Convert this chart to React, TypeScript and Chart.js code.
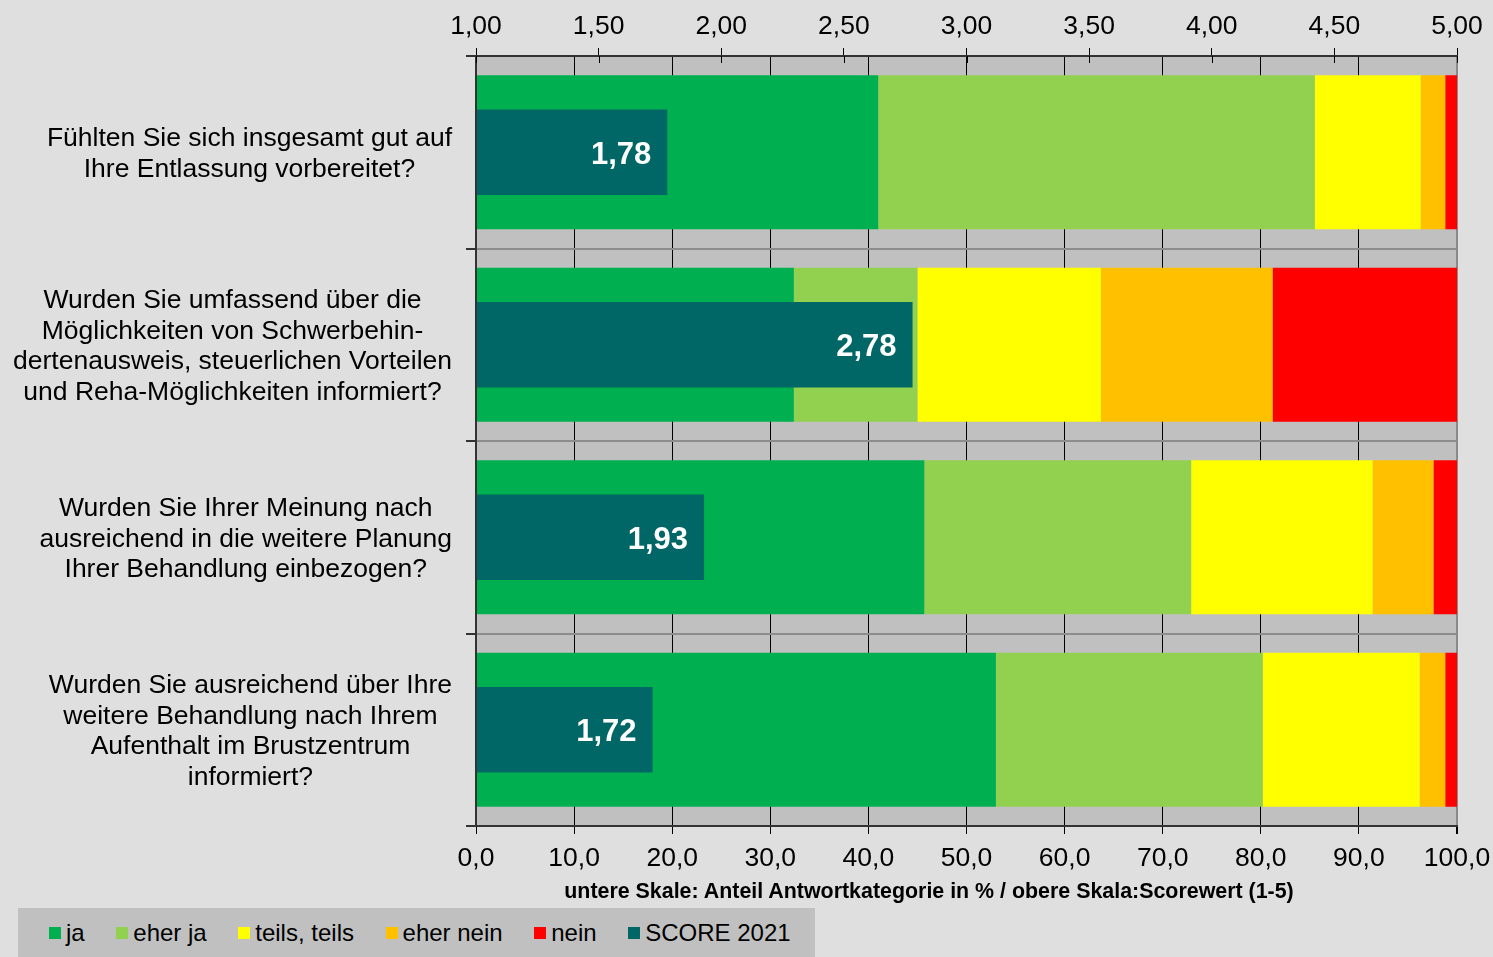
import React, { useEffect, useRef } from 'react';
import { Chart, registerables } from 'chart.js';

Chart.register(...registerables);

const FONT = '"Liberation Sans", Arial, sans-serif';

const categories: string[][] = [
  ['Fühlten Sie sich insgesamt gut auf', 'Ihre Entlassung vorbereitet?'],
  [
    'Wurden Sie umfassend über die',
    'Möglichkeiten von Schwerbehin-',
    'dertenausweis, steuerlichen Vorteilen',
    'und Reha-Möglichkeiten informiert?',
  ],
  ['Wurden Sie Ihrer Meinung nach', 'ausreichend in die weitere Planung', 'Ihrer Behandlung einbezogen?'],
  ['Wurden Sie ausreichend über Ihre', 'weitere Behandlung nach Ihrem', 'Aufenthalt im Brustzentrum', 'informiert?'],
];

const ja = [41.0, 32.4, 45.7, 53.0];
const eherJa = [44.5, 12.6, 27.2, 27.2];
const teils = [10.8, 18.7, 18.5, 16.0];
const eherNein = [2.5, 17.5, 6.2, 2.6];
const nein = [1.2, 18.8, 2.4, 1.2];
const score2021 = [1.78, 2.78, 1.93, 1.72];

const seriesNames = ['ja', 'eher ja', 'teils, teils', 'eher nein', 'nein', 'SCORE 2021'];
const seriesColors = ['#00b050', '#92d050', '#ffff00', '#ffc000', '#ff0000', '#006666'];

const axisTitle = 'untere Skale: Anteil Antwortkategorie in % / obere Skala:Scorewert (1-5)';

const fmt = (v: number, d: number) => v.toFixed(d).replace('.', ',');

const bgPlugin = {
  id: 'areaBg',
  beforeDraw(chart: any) {
    const { ctx, chartArea } = chart;
    ctx.save();
    ctx.fillStyle = '#c0c0c0';
    ctx.fillRect(chartArea.left, chartArea.top, chartArea.right - chartArea.left, chartArea.bottom - chartArea.top);
    ctx.restore();
  },
};

const labelsPlugin = {
  id: 'catLabels',
  afterDraw(chart: any) {
    const { ctx } = chart;
    const yS = chart.scales.y;
    const x2 = chart.scales.x2;
    ctx.save();
    // inner parts of the top axis tick marks
    ctx.strokeStyle = '#000';
    ctx.lineWidth = 1;
    x2.ticks.forEach((t: any) => {
      const x = Math.round(x2.getPixelForValue(t.value)) + 0.5;
      ctx.beginPath();
      ctx.moveTo(x, chart.chartArea.top);
      ctx.lineTo(x, chart.chartArea.top + 7);
      ctx.stroke();
    });
    ctx.font = '26.5px ' + FONT;
    ctx.fillStyle = '#000';
    ctx.textAlign = 'center';
    ctx.textBaseline = 'middle';
    categories.forEach((lines, i) => {
      const cy = yS.getPixelForValue(i) + 2;
      const w = Math.max(...lines.map((l) => ctx.measureText(l).width));
      const cx = yS.right - 24 - w / 2;
      lines.forEach((l, j) => ctx.fillText(l, cx, cy + (j - (lines.length - 1) / 2) * 30.7));
    });
    // score value labels
    const meta = chart.getDatasetMeta(5);
    ctx.font = 'bold 31px ' + FONT;
    ctx.fillStyle = '#ffffff';
    ctx.textAlign = 'right';
    meta.data.forEach((bar: any, i: number) => {
      ctx.fillText(fmt(score2021[i], 2), bar.x - 16, bar.y + 3);
    });
    ctx.restore();
  },
};

export default function App() {
  const ref = useRef<HTMLCanvasElement | null>(null);

  useEffect(() => {
    if (!ref.current) return;
    const stackSeries = [ja, eherJa, teils, eherNein, nein];
    const datasets: any[] = stackSeries.map((d, i) => ({
      label: seriesNames[i],
      data: d,
      backgroundColor: seriesColors[i],
      borderWidth: 0,
      xAxisID: 'x',
      stack: 'a',
      grouped: false,
      barPercentage: 0.8,
      categoryPercentage: 1,
      order: 1,
    }));
    datasets.push({
      label: seriesNames[5],
      data: score2021,
      backgroundColor: seriesColors[5],
      borderWidth: 0,
      xAxisID: 'x2',
      stack: 'b',
      grouped: false,
      barPercentage: 0.443,
      categoryPercentage: 1,
      order: 0,
    });

    const chart = new Chart(ref.current, {
      type: 'bar',
      data: { labels: categories.map((c) => c.join(' ')), datasets },
      options: {
        indexAxis: 'y',
        animation: false,
        responsive: false,
        devicePixelRatio: 1,
        layout: { padding: { top: 0, right: 36, bottom: 81, left: 0 } },
        plugins: { legend: { display: false }, tooltip: { enabled: false } },
        scales: {
          x: {
            type: 'linear',
            position: 'bottom',
            min: 0,
            max: 100,
            stacked: true,
            afterFit: (s: any) => {
              s.height = 50;
              s.paddingLeft = 0;
              s.paddingRight = 0;
            },
            ticks: {
              stepSize: 10,
              color: '#000',
              padding: 9,
              font: { family: FONT, size: 26.5 },
              maxRotation: 0,
              autoSkip: false,
              callback: (v: any) => fmt(Number(v), 1),
            },
            grid: {
              color: (ctx: any) => (ctx.tick && ctx.tick.value === 100 ? '#8a8a8a' : ctx.tick && ctx.tick.value === 0 ? 'rgba(0,0,0,0)' : '#000'),
              lineWidth: (ctx: any) => (ctx.tick && ctx.tick.value === 100 ? 2 : 1),
              tickColor: '#000',
              tickLength: 8,
            },
            border: { color: '#333', width: 2, z: 1 },
          },
          x2: {
            type: 'linear',
            position: 'top',
            min: 1,
            max: 5,
            stacked: false,
            afterFit: (s: any) => {
              s.height = 56;
              s.paddingLeft = 0;
              s.paddingRight = 0;
            },
            ticks: {
              stepSize: 0.5,
              color: '#000',
              padding: 5,
              font: { family: FONT, size: 26.5 },
              maxRotation: 0,
              autoSkip: false,
              callback: (v: any) => fmt(Number(v), 2),
            },
            grid: { drawOnChartArea: false, tickColor: '#000', tickLength: 8 },
            border: { color: '#333', width: 2, z: 1 },
          },
          y: {
            type: 'category',
            position: 'left',
            stacked: true,
            afterFit: (s: any) => {
              s.width = 476;
            },
            ticks: { display: false },
            grid: {
              color: '#8c8c8c',
              lineWidth: 2,
              tickColor: '#333',
              tickLength: 10,
              offset: true,
            },
            border: { color: '#333', width: 2, z: 1 },
          },
        },
      },
      plugins: [bgPlugin, labelsPlugin],
    });
    return () => chart.destroy();
  }, []);

  return (
    <div
      style={{
        position: 'fixed',
        left: 0,
        top: 0,
        width: 1493,
        height: 957,
        background: '#dfdfdf',
        fontFamily: FONT,
        overflow: 'hidden',
      }}
    >
      <canvas ref={ref} width={1493} height={957} style={{ position: 'absolute', left: 0, top: 0 }} />
      <div
        style={{
          position: 'absolute',
          left: 929,
          top: 879,
          transform: 'translateX(-50%)',
          whiteSpace: 'nowrap',
          fontWeight: 'bold',
          fontSize: 21.4,
          color: '#000',
        }}
      >
        {axisTitle}
      </div>
      <div
        style={{
          position: 'absolute',
          left: 18,
          top: 908,
          width: 797,
          height: 49,
          background: '#c0c0c0',
          display: 'flex',
          alignItems: 'center',
          paddingLeft: 31,
          boxSizing: 'border-box',
          overflow: 'hidden',
          whiteSpace: 'nowrap',
        }}
      >
        {seriesNames.map((n, i) => (
          <div key={n} style={{ display: 'flex', alignItems: 'center', marginRight: 31.6, flexShrink: 0 }}>
            <span style={{ width: 12, height: 12, background: seriesColors[i], marginRight: 5, display: 'inline-block', flexShrink: 0 }} />
            <span style={{ fontSize: 24, color: '#000', lineHeight: '28px', whiteSpace: 'nowrap' }}>{n}</span>
          </div>
        ))}
      </div>
    </div>
  );
}
